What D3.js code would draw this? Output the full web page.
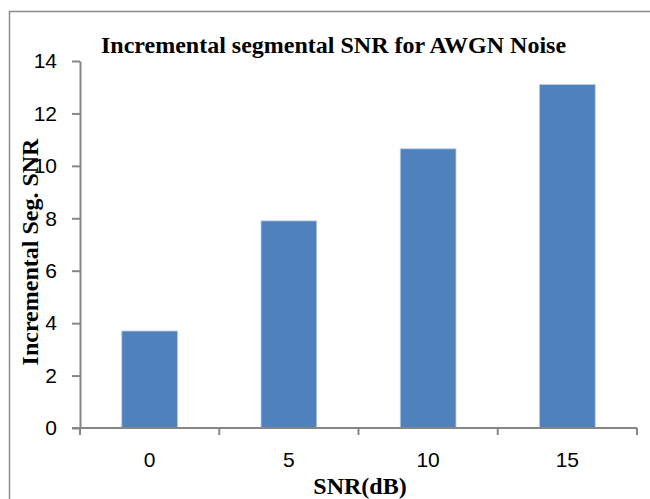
<!DOCTYPE html>
<html>
<head>
<meta charset="utf-8">
<script src="https://cdn.jsdelivr.net/npm/d3@7"></script>
<style>
  body { margin: 0; background: #fff; }
  svg { display: block; }
</style>
</head>
<body>
<svg width="650" height="499"></svg>
<script>
let categories = ["0", "5", "10", "15"]
let values = [3.7, 7.9, 10.65, 13.1]
let yTicks = [0, 2, 4, 6, 8, 10, 12, 14]
let title = "Incremental segmental SNR for AWGN Noise"
let xTitle = "SNR(dB)"
let yTitle = "Incremental Seg. SNR"

var svg = d3.select("svg"),
  width = +svg.attr("width"),
  height = +svg.attr("height");

var margin = { left: 80, right: 13, top: 61, bottom: 71 }
var axisColor = "#868686"
var sans = "'Liberation Sans', Arial, sans-serif"
var serif = "'Liberation Serif', 'Times New Roman', serif"

// outer frame, only left and top edges are in view
svg.append("path")
  .attr("d", "M9.5,499 V11.5 H650")
  .attr("fill", "none")
  .attr("stroke", "#8c8c8c")
  .attr("stroke-width", 1.5)

var x = d3.scaleBand()
  .domain(categories)
  .range([margin.left, width - margin.right])
  .paddingInner(0.6)
  .paddingOuter(0.3)

var y = d3.scaleLinear()
  .domain([0, 14])
  .range([height - margin.bottom, margin.top])

// bars
svg.append("g")
  .selectAll("rect")
  .data(values)
  .enter()
  .append("rect")
  .attr("x", (d, i) => x(categories[i]))
  .attr("y", d => y(d))
  .attr("width", x.bandwidth())
  .attr("height", d => y(0) - y(d))
  .attr("fill", "#4f81bd")
  .attr("stroke", "#b7cbe4")
  .attr("stroke-width", 0.8)

// y axis
var yAxis = svg.append("g")
  .attr("transform", "translate(" + margin.left + ",0)")
  .call(d3.axisLeft(y).tickValues(yTicks).tickSize(8).tickSizeOuter(0).tickPadding(15))
yAxis.select(".domain").attr("stroke", axisColor).attr("stroke-width", 2)
yAxis.selectAll(".tick line").attr("stroke", axisColor).attr("stroke-width", 2)
yAxis.selectAll(".tick text")
  .attr("font-family", sans)
  .attr("font-size", 21)
  .attr("fill", "#000")

// x axis: ticks sit on the category boundaries
var bound = d3.scaleLinear().domain([0, categories.length]).range([margin.left, width - margin.right])
var xAxis = svg.append("g")
  .attr("transform", "translate(0," + y(0) + ")")
xAxis.append("line")
  .attr("x1", margin.left - 8).attr("x2", width - margin.right)
  .attr("stroke", axisColor).attr("stroke-width", 2)
xAxis.selectAll(".xtick")
  .data(d3.range(categories.length + 1))
  .enter()
  .append("line")
  .attr("x1", d => bound(d)).attr("x2", d => bound(d))
  .attr("y1", 0).attr("y2", 7)
  .attr("stroke", axisColor).attr("stroke-width", 2)
xAxis.selectAll(".xlabel")
  .data(categories)
  .enter()
  .append("text")
  .attr("x", d => x(d) + x.bandwidth() / 2)
  .attr("y", 39)
  .attr("text-anchor", "middle")
  .attr("font-family", sans)
  .attr("font-size", 21)
  .text(d => d)

// titles
svg.append("text")
  .attr("x", 101).attr("y", 53)
  .attr("font-family", serif)
  .attr("font-weight", "bold")
  .attr("font-size", 24)
  .text(title)

svg.append("text")
  .attr("x", 360).attr("y", 494)
  .attr("text-anchor", "middle")
  .attr("font-family", serif)
  .attr("font-weight", "bold")
  .attr("font-size", 24)
  .text(xTitle)

svg.append("text")
  .attr("transform", "translate(38,252) rotate(-90)")
  .attr("text-anchor", "middle")
  .attr("font-family", serif)
  .attr("font-weight", "bold")
  .attr("font-size", 24)
  .text(yTitle)
</script>
</body>
</html>
